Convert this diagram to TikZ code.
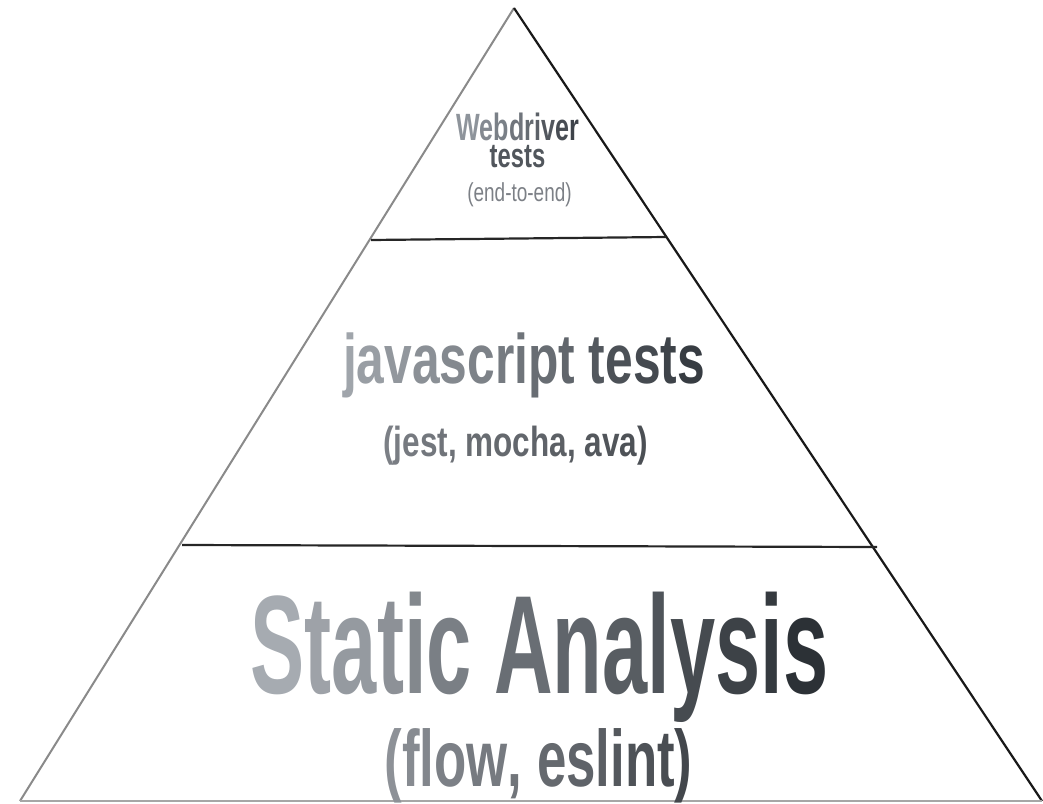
\documentclass[tikz,border=0pt]{standalone}
\usepackage{fontspec}
\setmainfont{Liberation Sans}
\usepackage{graphicx}
\usetikzlibrary{calc}

\definecolor{statlight}{HTML}{A6ABB1}
\definecolor{statdark}{HTML}{2C3136}
\definecolor{flowlight}{HTML}{8D9197}
\definecolor{flowdark}{HTML}{43474C}
\definecolor{jslight}{HTML}{A0A5AB}
\definecolor{jsdark}{HTML}{373C42}
\definecolor{jestlight}{HTML}{7C8086}
\definecolor{jestdark}{HTML}{4B4F54}
\definecolor{wdlight}{HTML}{8E949B}
\definecolor{wddark}{HTML}{3E434A}
\definecolor{edgegrey}{HTML}{8A8A8A}

% colour every letter a bit darker, left to right
\ExplSyntaxOn
\int_new:N \l_grad_n_int
\int_new:N \l_grad_i_int
\NewDocumentCommand \gradtext { m m m }
  {
    \int_set:Nn \l_grad_n_int { \str_count:n {#3} - 1 }
    \int_zero:N \l_grad_i_int
    \str_map_inline:nn {#3}
      {
        \str_if_eq:nnTF { ##1 } { ~ }
          { \c_space_tl }
          {
            \exp_args:Nx \textcolor
              { #2 ! \int_eval:n { 100 * \l_grad_i_int / \l_grad_n_int } ! #1 }
              {##1}
          }
        \int_incr:N \l_grad_i_int
      }
  }
\ExplSyntaxOff

\begin{document}
\begin{tikzpicture}[x=0.5pt,y=-0.5pt,
  divider/.style={line width=1.1pt, draw=black!85},
  txt/.style={anchor=base, inner sep=0pt, outer sep=0pt}]
\useasboundingbox (0,0) rectangle (1043,803);

% pyramid
\coordinate (apex) at (514,8);
\coordinate (bl) at (20,801);
\coordinate (br) at (1042,801);
\coordinate (d1l) at (371,240);
\coordinate (d1r) at (666,237);
\coordinate (d2l) at (182,545);
\coordinate (d2r) at (877,547);
\draw[line width=1pt, draw=edgegrey] (bl) -- (apex);
\draw[line width=1.1pt, draw=black!90] (apex) -- (br);
\draw[line width=1pt, draw=black!35] (bl) -- (br);
\draw[divider] (d1l) -- (d1r);
\draw[divider] (d2l) -- (d2r);

% top tier
\node[inner sep=0pt, outer sep=0pt, anchor=north, align=center,
      font=\fontsize{19}{13.6}\selectfont\bfseries] (webdriver) at (517.5,113)
  {\scalebox{0.66}[1]{\gradtext{wdlight}{wddark}{Webdriver}}\\
   \fontsize{17}{13.6}\selectfont\scalebox{0.7}[1]{\textcolor{wddark!90!white}{tests}}};
\node[txt] (endtoend) at (519.5,201)
  {\fontsize{13}{13}\selectfont\scalebox{0.73}[1]{\textcolor{jestlight}{(end-to-end)}}};

% middle tier
\node[txt] (jstests) at (524,383)
  {\fontsize{35}{35}\selectfont\bfseries\scalebox{0.71}[1]{\gradtext{jslight}{jsdark}{javascript tests}}};
\node[txt] (jest) at (515.5,456)
  {\fontsize{21}{21}\selectfont\bfseries\scalebox{0.75}[1]{\gradtext{jestlight}{jestdark}{(jest, mocha, ava)}}};

% bottom tier
\node[txt] (static) at (539.5,693)
  {\fontsize{70}{70}\selectfont\bfseries\scalebox{0.58}[1]{\gradtext{statlight}{statdark}{Static Analysis}}};
\node[txt] (flow) at (538.5,786)
  {\fontsize{40}{40}\selectfont\bfseries\scalebox{0.66}[1]{\gradtext{flowlight}{flowdark}{(flow, eslint)}}};
\end{tikzpicture}
\end{document}
